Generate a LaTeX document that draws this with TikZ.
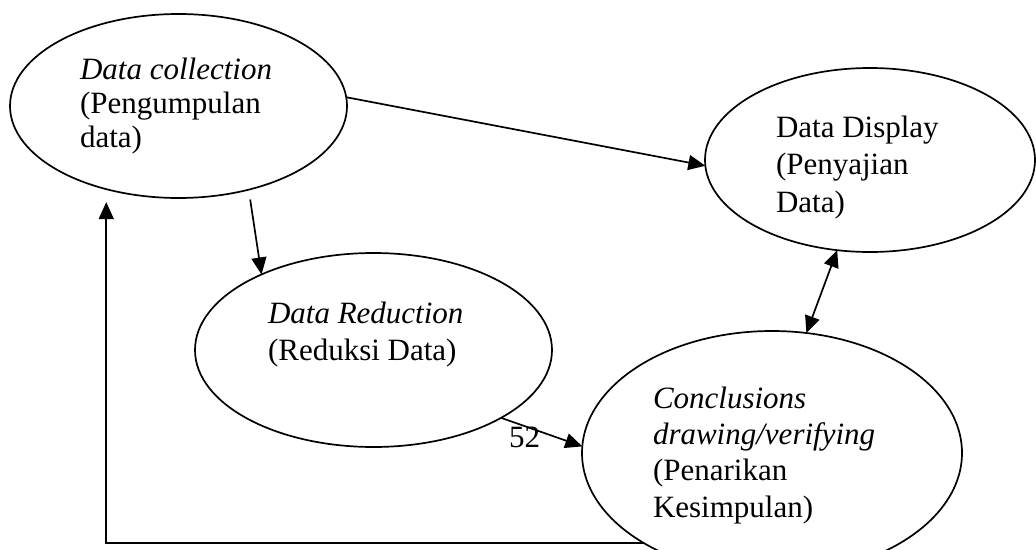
\documentclass[tikz,border=0pt]{standalone}
\usepackage{fontspec}
\setmainfont{Liberation Serif}
\usetikzlibrary{arrows.meta,shapes.geometric}
\tikzset{
  oval/.style={draw, ellipse, line width=1.7pt, inner sep=0pt, outer sep=0pt},
  txt/.style={anchor=base west, align=left, inner sep=0pt, outer sep=0pt},
  conn/.style={line width=1.7pt, -{Triangle[length=17pt,width=15pt]}},
  biconn/.style={line width=1.7pt, {Triangle[length=17pt,width=15pt]}-{Triangle[length=17pt,width=15pt]}},
}
\begin{document}
\begin{tikzpicture}[x=1pt,y=-1pt]
\useasboundingbox (0,0) rectangle (1036,549);
\node[oval, minimum width=337pt, minimum height=184pt] (col) at (178.5,106) {};
\node[oval, minimum width=330pt, minimum height=184pt] (dis) at (870,160) {};
\node[oval, minimum width=357pt, minimum height=194pt] (red) at (373.5,350) {};
\node[oval, minimum width=380pt, minimum height=244pt] (con) at (772,453) {};

% anchor base west = baseline of the last line
\node[txt, font=\fontsize{31}{34}\selectfont] (tcol) at (80,147) {\textit{Data collection}\\(Pengumpulan\\data)};
\node[txt, font=\fontsize{31}{37.5}\selectfont] (tdis) at (776,212) {Data Display\\(Penyajian\\Data)};
\node[txt, font=\fontsize{31}{37}\selectfont] (tred) at (268,360) {\textit{Data Reduction}\\(Reduksi Data)};
\node[txt, font=\fontsize{31}{36.3}\selectfont] (tcon) at (653,517) {\textit{Conclusions}\\\textit{drawing/verifying}\\(Penarikan\\Kesimpulan)};
\node[txt, font=\fontsize{31}{36}\selectfont] (pg) at (509,447) {52};

\draw[conn] (col.3) -- (dis.182.4);
\draw[conn, shorten <=10pt] (col.-50.2) -- (red.146.4);
\draw[biconn] (dis.-110.6) -- (con.74.4);
\draw[conn] (red.-28.5) -- (con.178.2);
\draw[conn, shorten >=13pt] (con.-145.6) -| (col.-131.3);
\end{tikzpicture}
\end{document}
